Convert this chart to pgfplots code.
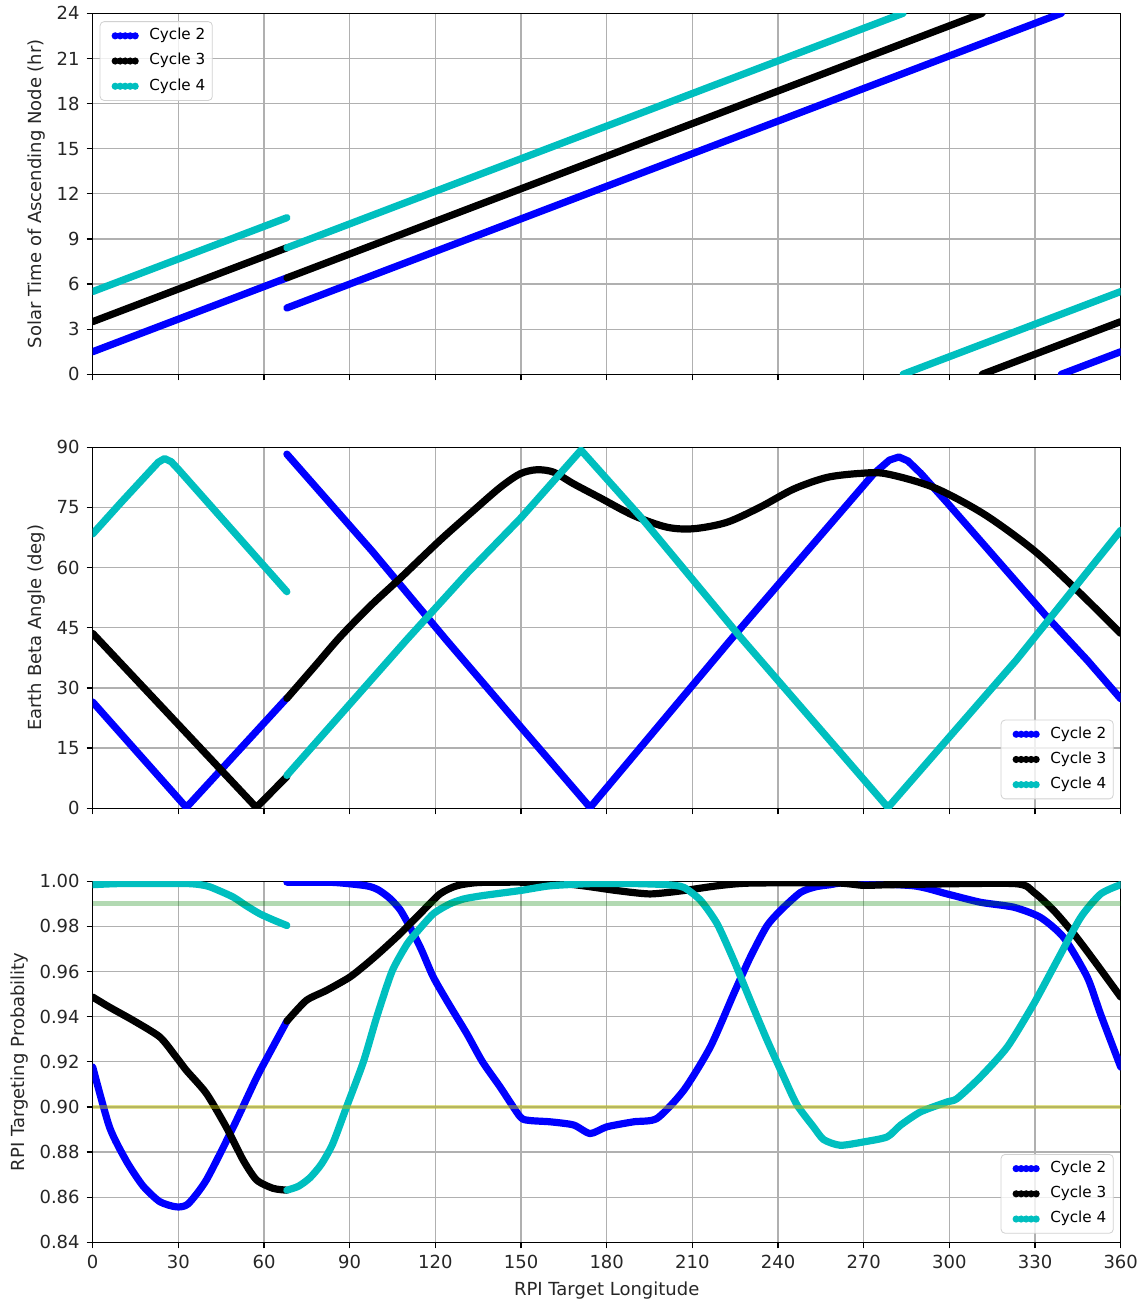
\documentclass[border=0pt]{standalone}
\usepackage{fontspec}
\setmainfont{DejaVu Sans}
\usepackage{pgfplots}
\pgfplotsset{compat=1.18}

\definecolor{cblue}{RGB}{0,0,255}
\definecolor{ccyan}{RGB}{0,191,191}
\definecolor{gridgray}{RGB}{176,176,176}
\definecolor{refgreen}{RGB}{0,128,0}
\definecolor{refyellow}{RGB}{191,191,0}

\newcommand{\basefont}{\fontsize{9}{10.5}\selectfont}
\newcommand{\legfont}{\fontsize{7.6}{9}\selectfont}

\pgfplotsset{
  panel/.style={
    scale only axis, width=514pt, height=180.5pt,
    xmin=0, xmax=360, xtick={0,30,...,360},
    grid=major, grid style={gridgray, line width=0.65pt},
    axis line style={line width=0.65pt},
    tick align=outside, tick pos=left,
    major tick length=3pt,
    tick style={black, line width=0.65pt},
    /pgf/number format/assume math mode=true,
    every tick label/.append style={font=\basefont, text=black!85},
    label style={font=\basefont, text=black!85},
    legend cell align=left,
    legend image code/.code={%
      \path (-2.25pt,0pt);
      \draw[line width=3.6pt, line cap=round, dash pattern=on 0pt off 2.5pt]
        (0pt,0pt) -- (10pt,0pt);},
    legend style={draw=black!18, rounded corners=2pt, fill=white,
      fill opacity=0.8, text opacity=1, font=\legfont,
      inner xsep=3.5pt, inner ysep=3.4pt, row sep=5.2pt, column sep=5.25pt,
      nodes={inner sep=0pt, text height=5.6pt, text depth=1.8pt}},
    every axis plot/.append style={line width=3.6pt, line cap=round, line join=round},
  },
}

\begin{document}
\begin{tikzpicture}
\useasboundingbox (-46.35pt,-29.85pt) rectangle (524.15pt,621.15pt);

% ---------------- Solar time of ascending node ----------------
\begin{axis}[panel, at={(0pt,434pt)}, anchor=south west,
  ymin=0, ymax=24, ytick={0,3,...,24}, xticklabels={},
  ylabel={Solar Time of Ascending Node (hr)},
  ylabel style={at={(axis description cs:-0.0545,0.5)}, anchor=center},
  legend style={at={(axis description cs:0.0068,0.978)}, anchor=north west}]
\addplot[cblue] coordinates {(0,1.5) (68,6.41)};
\addlegendentry{Cycle 2}
\addplot[black] coordinates {(0,3.5) (68,8.41)};
\addlegendentry{Cycle 3}
\addplot[ccyan] coordinates {(0,5.5) (68,10.41)};
\addlegendentry{Cycle 4}
\addplot[cblue, forget plot] coordinates {(68,4.41) (339.2,24)};
\addplot[cblue, forget plot] coordinates {(339.2,0) (360,1.5)};
\addplot[black, forget plot] coordinates {(68,6.41) (311.5,24)};
\addplot[black, forget plot] coordinates {(311.5,0) (360,3.5)};
\addplot[ccyan, forget plot] coordinates {(68,8.41) (283.8,24)};
\addplot[ccyan, forget plot] coordinates {(283.8,0) (360,5.5)};
\end{axis}

% ---------------- Earth beta angle ----------------
\begin{axis}[panel, at={(0pt,217pt)}, anchor=south west,
  ymin=0, ymax=90, ytick={0,15,...,90}, xticklabels={},
  ylabel={Earth Beta Angle (deg)},
  ylabel style={at={(axis description cs:-0.0545,0.5)}, anchor=center},
  legend style={at={(axis description cs:0.9932,0.025)}, anchor=south east}]
\addplot[cblue] coordinates {(0,26.5) (32.8,0.2) (67.9,27.4)};
\addlegendentry{Cycle 2}
\addplot[black] coordinates {(0,43.6) (57.3,0.2) (68,7.9)};
\addlegendentry{Cycle 3}
\addplot[ccyan] coordinates {(0,68.4) (10,76.3) (20,84) (23,86.3) (25.2,87.2)
  (27.5,86.4) (30,84.5) (68,54)};
\addlegendentry{Cycle 4}
\addplot[cblue, forget plot] coordinates {(68,88.3) (98,64.0)
  (123.9,41.9) (150,20.2) (174.2,0.2) (223.3,41.9) (273.5,83.4) (279,86.8)
  (282.3,87.6) (285.5,86.6) (290,83.5) (299.2,76.2) (334.2,47.7) (348.3,36.9)
  (360,27.3)};
\addplot[black, smooth, tension=0.5, forget plot] coordinates {(68,27.4) (78,35.6)
  (86.6,42.7) (97,50.3) (107.6,57.3) (121.6,66.8) (133.3,74.2) (142.7,80)
  (149.7,83.4) (155.5,84.4) (161.4,83.8) (168.4,80.9) (177.7,77.4) (189.4,73)
  (201,70.1) (210.4,69.7) (222.1,71.3) (233.8,75.1) (245.5,79.6) (257.2,82.5)
  (268.9,83.5) (277.9,83.4) (294.5,80) (312,73.4) (329.6,64.3) (344.8,54.3)
  (360,43.6)};
\addplot[ccyan, forget plot] coordinates {(68,8.2) (109.8,41.9) (131,58.5)
  (149.7,72.2) (171,89.3) (191.7,72.8)
  (226.8,42.7) (278.5,0.2) (323.4,36.9) (360,69.3)};
\end{axis}

% ---------------- RPI targeting probability ----------------
\begin{axis}[panel, at={(0pt,0pt)}, anchor=south west,
  ymin=0.84, ymax=1.0, ytick={0.84,0.86,0.88,0.90,0.92,0.94,0.96,0.98,1.00},
  yticklabel style={/pgf/number format/.cd, fixed, fixed zerofill, precision=2},
  xlabel={RPI Target Longitude},
  xlabel style={at={(axis description cs:0.5,-0.133)}, anchor=center},
  ylabel={RPI Targeting Probability},
  ylabel style={at={(axis description cs:-0.0711,0.5)}, anchor=center},
  legend style={at={(axis description cs:0.9932,0.024)}, anchor=south east}]
\addplot[cblue, smooth, tension=0.4] coordinates {(0,0.9177) (5.9,0.891)
  (11.8,0.876) (17.6,0.865) (23.5,0.858) (29.3,0.8557) (33.4,0.857)
  (39.8,0.8676) (49.2,0.891) (57.4,0.913) (62,0.924) (68,0.938)};
\addlegendentry{Cycle 2}
\addplot[black, smooth, tension=0.4] coordinates {(0,0.9487) (5.9,0.9442)
  (14.1,0.9384) (23.5,0.931) (29.3,0.922) (32.8,0.9162) (39.8,0.906)
  (46.8,0.891) (52.7,0.8764) (57.4,0.8676) (63.2,0.8639) (68,0.8631)};
\addlegendentry{Cycle 3}
\addplot[ccyan, smooth, tension=0.4] coordinates {(0,0.9985) (10,0.999)
  (33,0.999) (39.8,0.998) (44,0.996) (49.2,0.993) (54,0.989) (58.5,0.9856)
  (63,0.983) (68,0.9804)};
\addlegendentry{Cycle 4}
\addplot[cblue, smooth, tension=0.4, forget plot] coordinates {(68,0.9996)
  (84.3,0.9995) (95.9,0.998) (100,0.9962) (104,0.9925) (107.6,0.9875)
  (111,0.9800) (115,0.9700) (119.3,0.9575) (125,0.945) (131,0.9325)
  (136.5,0.920) (142.7,0.9088) (149.7,0.8956) (153,0.894) (160.2,0.8934)
  (168.4,0.892) (174.2,0.8882) (180.1,0.8912) (189.4,0.8934) (197.6,0.8949)
  (207,0.9074) (216.3,0.9266) (224.5,0.9502) (230.3,0.9664) (236,0.9800)
  (240.8,0.9870) (247.8,0.9950) (253,0.9975) (258.3,0.9985) (264,0.9993)
  (287.5,0.998) (299.2,0.9944) (310.9,0.9907) (322.6,0.9885) (331.9,0.984)
  (340.1,0.975) (348.3,0.9575) (352.9,0.9413) (360,0.9177)};
\addplot[black, smooth, tension=0.4, forget plot] coordinates {(68,0.938)
  (74.8,0.9472) (81.8,0.9516) (90,0.9575) (95.9,0.9634) (101,0.969)
  (107.6,0.9767) (114.6,0.9856) (121.6,0.9944) (127.5,0.998) (136,0.9995)
  (160,0.9995) (171.8,0.998) (183.5,0.9959) (195.2,0.9944) (207,0.9959)
  (218.7,0.998) (230,0.9992) (260,0.9993) (270,0.9982) (280,0.9985)
  (322.6,0.999) (329.6,0.9951) (336.6,0.987) (343.6,0.9767) (350.6,0.965)
  (360,0.9487)};
\addplot[ccyan, smooth, tension=0.4, forget plot] coordinates {(68,0.8631)
  (72,0.8648) (76,0.8685) (80,0.8745) (84,0.8835) (88.9,0.900) (94.8,0.920)
  (99.5,0.940) (104.8,0.960) (110,0.972) (113.5,0.9775) (119.3,0.9856)
  (125.1,0.99) (130,0.9922) (136.8,0.9937) (149.7,0.9959) (160.2,0.998)
  (175,0.999) (189.4,0.999) (201.1,0.9985) (207,0.9973) (212.9,0.9915)
  (218.7,0.9811) (224.5,0.965) (230.3,0.9472) (236.2,0.9295) (242,0.9133)
  (246.6,0.901) (252.5,0.891) (256,0.8855) (261.8,0.883) (270,0.8845)
  (278.2,0.8867) (282.9,0.8919) (289.9,0.8978) (299.2,0.9022) (302.7,0.9037)
  (310.9,0.9133) (320.3,0.9266) (329.6,0.9458) (337.8,0.965) (346,0.984)
  (353,0.9944) (360,0.9985)};
% reference levels
\addplot[refgreen, opacity=0.3, line width=2.5pt, line cap=butt, forget plot]
  coordinates {(0,0.99) (360,0.99)};
\addplot[refyellow, opacity=0.45, line width=2.3pt, line cap=butt, forget plot]
  coordinates {(0,0.90) (360,0.90)};
\end{axis}
\end{tikzpicture}
\end{document}
